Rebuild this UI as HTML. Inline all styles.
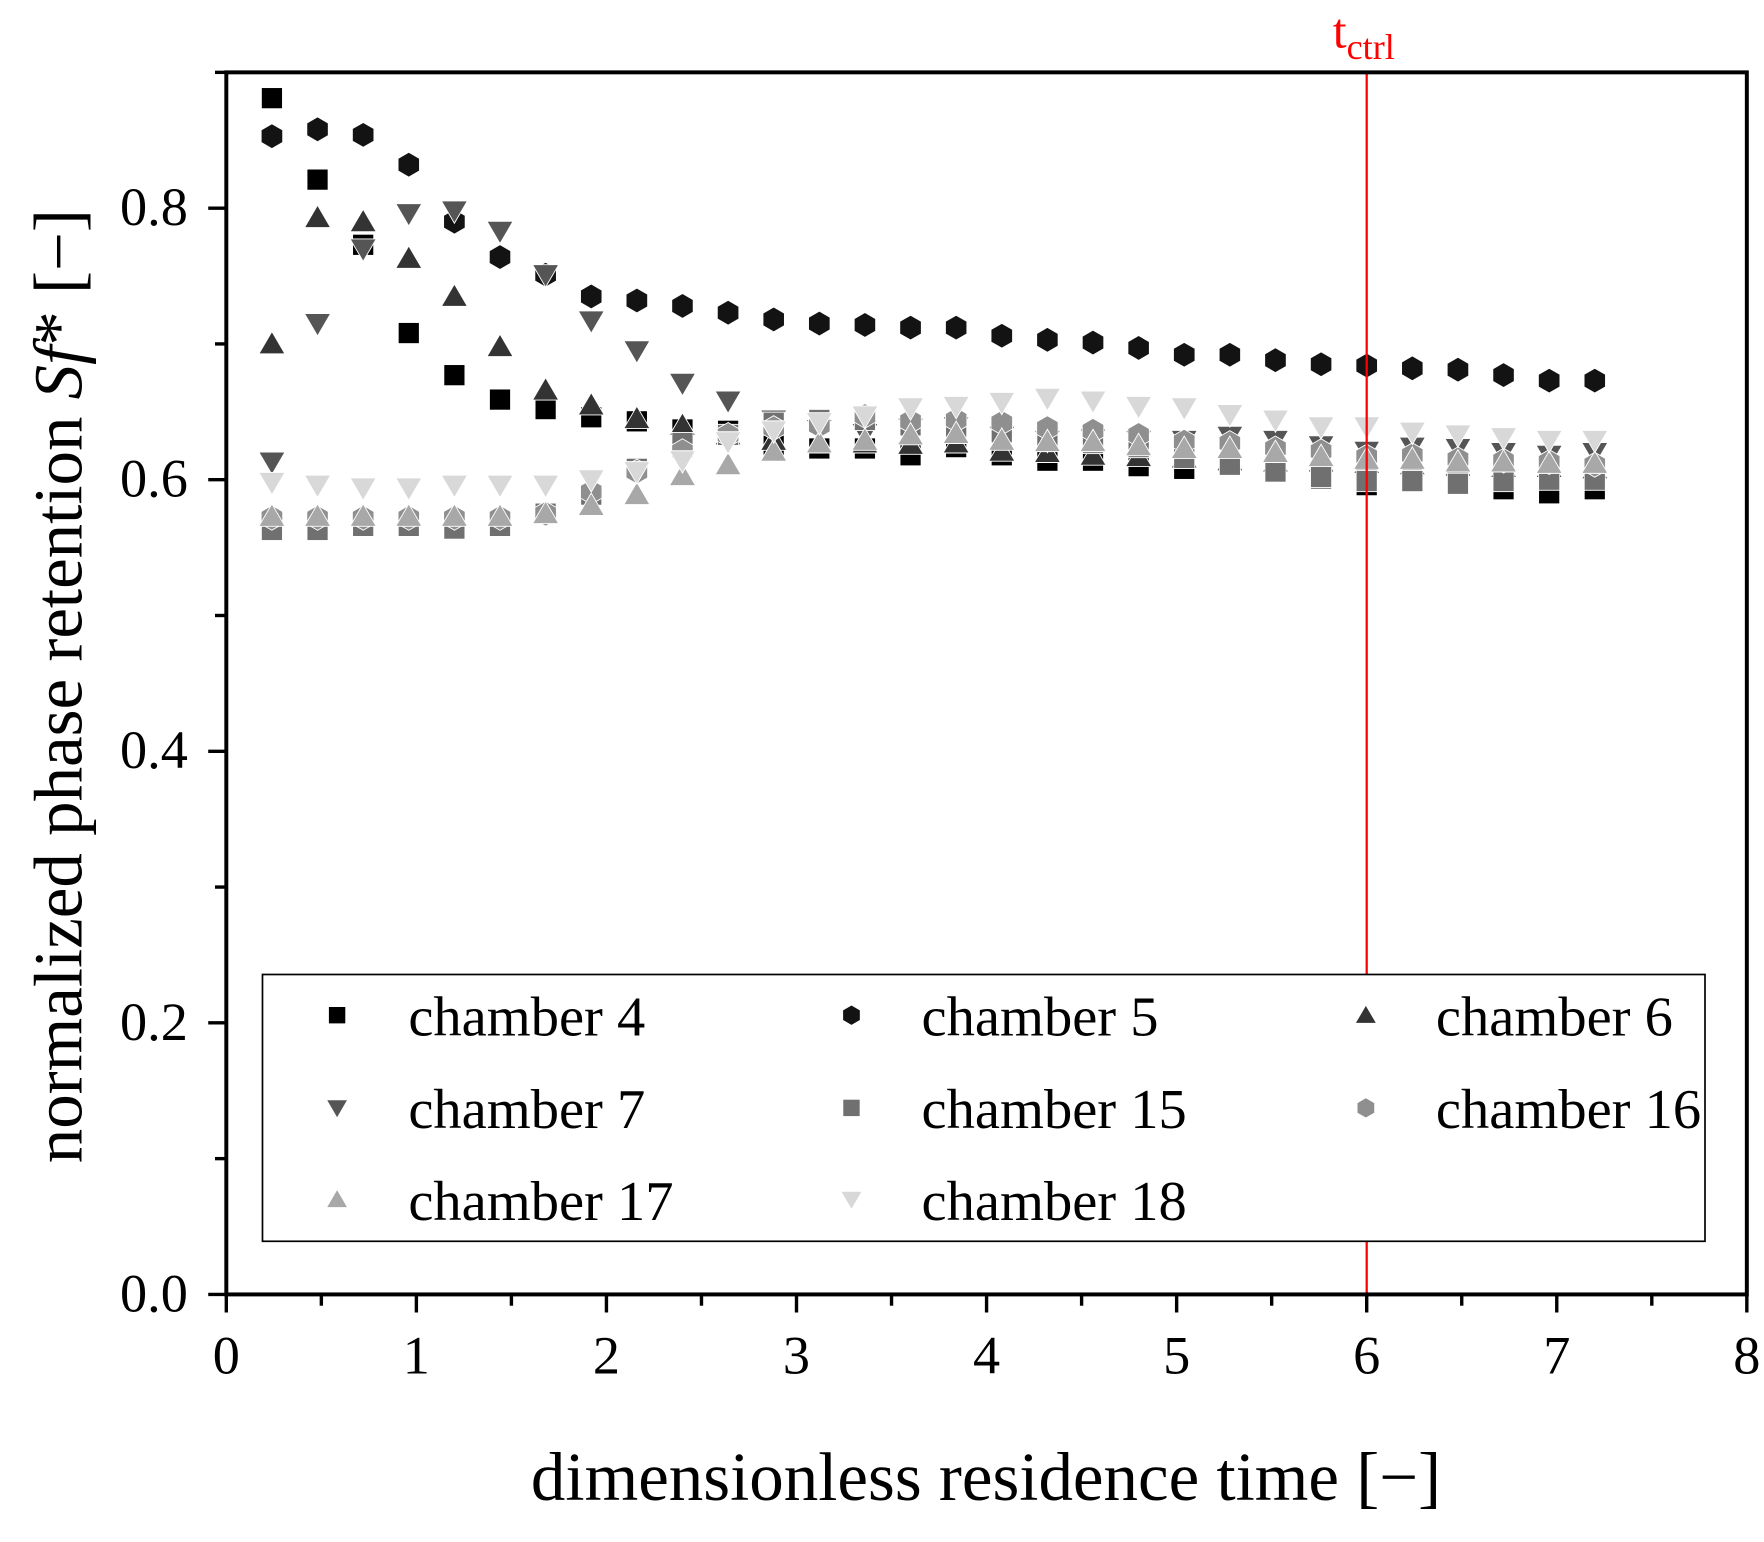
<!DOCTYPE html>
<html><head><meta charset="utf-8"><style>html,body{margin:0;padding:0;background:#fff}svg{display:block}</style></head>
<body>
<svg id="chart" width="1764" height="1542" viewBox="0 0 1560 1364" xmlns="http://www.w3.org/2000/svg" font-family="'Liberation Serif', serif">
<g id="marks"></g>
<g id="axes"></g>
</svg>
<script>
const xTicks = [0,1,2,3,4,5,6,7,8];
const yTicks = [0.0,0.2,0.4,0.6,0.8];
const yTickLabels = ["0.0","0.2","0.4","0.6","0.8"];
const times = [0.24,0.48,0.72,0.96,1.2,1.44,1.68,1.92,2.16,2.4,2.64,2.88,3.12,3.36,3.6,3.84,4.08,4.32,4.56,4.8,5.04,5.28,5.52,5.76,6.0,6.24,6.48,6.72,6.96,7.2];
const ch4 = [0.881,0.821,0.773,0.708,0.677,0.659,0.652,0.646,0.643,0.637,0.636,0.625,0.623,0.623,0.618,0.624,0.618,0.614,0.614,0.610,0.608,0.611,0.607,0.601,0.596,0.600,0.598,0.593,0.590,0.593];
const ch5 = [0.853,0.858,0.854,0.832,0.790,0.764,0.751,0.735,0.732,0.728,0.723,0.718,0.715,0.714,0.712,0.712,0.706,0.703,0.701,0.697,0.692,0.692,0.688,0.685,0.684,0.682,0.681,0.677,0.673,0.673];
const ch6 = [0.700,0.793,0.790,0.763,0.735,0.698,0.666,0.655,0.645,0.640,0.633,0.629,0.627,0.627,0.626,0.627,0.621,0.620,0.618,0.617,0.616,0.614,0.613,0.613,0.612,0.611,0.610,0.609,0.609,0.608];
const ch7 = [0.613,0.715,0.770,0.796,0.798,0.783,0.751,0.717,0.695,0.671,0.658,0.644,0.637,0.634,0.638,0.639,0.632,0.629,0.630,0.629,0.629,0.632,0.629,0.625,0.621,0.624,0.623,0.620,0.618,0.620];
const ch15 = [0.563,0.563,0.566,0.566,0.564,0.566,0.575,0.589,0.608,0.627,0.633,0.642,0.644,0.644,0.640,0.639,0.635,0.631,0.627,0.624,0.616,0.611,0.606,0.602,0.599,0.599,0.597,0.599,0.600,0.600];
const ch16 = [0.572,0.572,0.572,0.572,0.572,0.572,0.575,0.591,0.606,0.621,0.633,0.638,0.640,0.647,0.643,0.644,0.642,0.638,0.636,0.633,0.628,0.627,0.623,0.621,0.617,0.618,0.615,0.614,0.613,0.611];
const ch17 = [0.573,0.573,0.573,0.573,0.573,0.573,0.575,0.581,0.589,0.603,0.611,0.621,0.627,0.629,0.633,0.634,0.629,0.628,0.628,0.625,0.623,0.623,0.620,0.617,0.615,0.615,0.613,0.613,0.612,0.612];
const ch18 = [0.598,0.596,0.594,0.594,0.596,0.596,0.596,0.600,0.606,0.614,0.628,0.636,0.642,0.647,0.653,0.654,0.657,0.660,0.658,0.654,0.653,0.648,0.644,0.639,0.639,0.635,0.633,0.631,0.629,0.629];
const seriesNames = ["chamber 4","chamber 5","chamber 6","chamber 7","chamber 15","chamber 16","chamber 17","chamber 18"];
const seriesValues = [ch4,ch5,ch6,ch7,ch15,ch16,ch17,ch18];
const ctrlTime = 6;

const NS="http://www.w3.org/2000/svg";
const L=200,R=1545,T=64,B=1145,XMAX=8,YMAX=0.9;
const sx=v=>L+(v/XMAX)*(R-L);
const sy=v=>B-(v/YMAX)*(B-T);
const shapes=["square","hex","up","down","square","hex","up","down"];
const colors=["#000","#131313","#333","#555","#707070","#8f8f8f","#a8a8a8","#d8d8d8"];
function mk(tag,attrs,parent){const e=document.createElementNS(NS,tag);for(const k in attrs)e.setAttribute(k,attrs[k]);parent.appendChild(e);return e;}
function marker(shape,cx,cy,r,fill,parent){
  let e;
  if(shape==="square") e=mk("rect",{x:cx-r*0.85,y:cy-r*0.85,width:r*1.7,height:r*1.7,fill:fill},parent);
  else{let pts;
    if(shape==="hex"){pts=[];for(let i=0;i<6;i++){const a=Math.PI/3*i+Math.PI/2;pts.push((cx+r*Math.cos(a)).toFixed(1)+","+(cy+r*Math.sin(a)).toFixed(1));}pts=pts.join(" ");}
    else if(shape==="up") pts=`${cx},${cy-r} ${cx+r*1.05},${cy+r*0.8} ${cx-r*1.05},${cy+r*0.8}`;
    else pts=`${cx},${cy+r} ${cx+r*1.05},${cy-r*0.8} ${cx-r*1.05},${cy-r*0.8}`;
    e=mk("polygon",{points:pts,fill:fill},parent);}
  e.setAttribute("stroke","#fff");e.setAttribute("stroke-width","0.8");
  return e;
}
const marks=document.getElementById("marks");
seriesValues.forEach((vals,si)=>{
  const g=mk("g",{},marks);
  
  
  vals.forEach((v,i)=>{
    const m=marker(shapes[si],sx(times[i]),sy(v),11,colors[si],g);
    
    
  });
});
const ax=document.getElementById("axes");
const cl=mk("line",{x1:sx(ctrlTime),x2:sx(ctrlTime),y1:T,y2:B,stroke:"#f00","stroke-width":2},ax);


const ct=mk("text",{x:sx(ctrlTime)-30,y:42,fill:"#f00","font-size":44},ax);
ct.innerHTML='t<tspan font-size="32" dy="10">ctrl</tspan>';


const fr=mk("rect",{x:L,y:T,width:R-L,height:B-T,fill:"none",stroke:"#000","stroke-width":3.5},ax);


xTicks.forEach((t,i)=>{
  mk("line",{x1:sx(t),x2:sx(t),y1:B,y2:B+16,stroke:"#000","stroke-width":3},ax);
  if(i<xTicks.length-1) mk("line",{x1:sx(t+0.5),x2:sx(t+0.5),y1:B,y2:B+10,stroke:"#000","stroke-width":3},ax);
  const tx=mk("text",{x:sx(t),y:B+70,"text-anchor":"middle","font-size":48},ax);
  tx.textContent=t;
  
  
});
yTicks.forEach((t,i)=>{
  mk("line",{x1:L-16,x2:L,y1:sy(t),y2:sy(t),stroke:"#000","stroke-width":3},ax);
  mk("line",{x1:L-10,x2:L,y1:sy(t+0.1),y2:sy(t+0.1),stroke:"#000","stroke-width":3},ax);
  const tx=mk("text",{x:L-34,y:sy(t)+15,"text-anchor":"end","font-size":48},ax);
  tx.textContent=yTickLabels[i];
  
  
});
const xt=mk("text",{x:872,y:1327,"text-anchor":"middle","font-size":61},ax);
xt.textContent="dimensionless residence time [\u2212]";


const yt=mk("text",{x:0,y:0,"text-anchor":"middle","font-size":61,transform:"translate(72,607) rotate(-90)"},ax);
yt.innerHTML='normalized phase retention <tspan font-style="italic">Sf</tspan>* [\u2212]';


const lg=mk("g",{},ax);


mk("rect",{x:232,y:862,width:1276,height:236,fill:"#fff",stroke:"#000","stroke-width":1.5},lg);
const colX=[298,753,1208],textX=[361,815,1270],rowY=[900,982,1063];
seriesNames.forEach((n,i)=>{
  const c=i%3,r=Math.floor(i/3);
  const eg=mk("g",{},lg);
  
  
  marker(shapes[i],colX[c],rowY[r]-2,9,colors[i],eg);
  const tx=mk("text",{x:textX[c],y:rowY[r]+16,"font-size":50},eg);
  tx.textContent=n;
});
</script>
</body></html>
